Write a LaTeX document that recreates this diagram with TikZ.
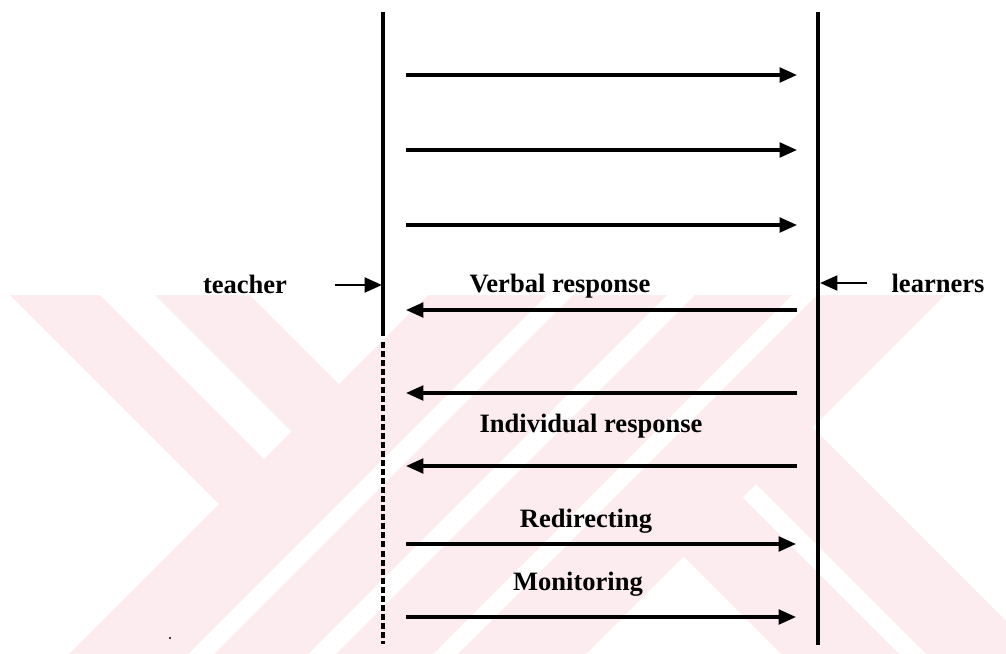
\documentclass[tikz,border=0pt]{standalone}
\usepackage{fontspec}
\setmainfont{Liberation Serif}
\usetikzlibrary{arrows.meta}
\definecolor{wmpink}{RGB}{253,236,239}
\begin{document}
\begin{tikzpicture}[x=0.75pt,y=-0.75pt,
  lbl/.style={font=\fontsize{19.9}{24}\selectfont\bfseries, inner sep=0pt, anchor=base},
  lifeline/.style={line width=2.3pt},
  brokenline/.style={line width=2.6pt, dash pattern=on 4.5pt off 2.3pt},
  msg/.style={line width=2.3pt, -{Triangle[length=13pt,width=11pt]}},
  pointer/.style={line width=2.2pt, -{Triangle[length=13pt,width=11pt]}}]
\useasboundingbox (0,0) rectangle (1006,653);

% faint background emblem made of crossing diagonal bands
\begin{scope}
  \clip (0,295) rectangle (1006,653);
  % bands rising to the right: x+y between the two values
  \foreach \da/\db in {723/842,868/962,990/1087,1112/1240}
    \fill[wmpink] ({(\da-1000)/2},{(\da+1000)/2}) -- ({(\db-1000)/2},{(\db+1000)/2})
      -- ({(\db+1000)/2},{(\db-1000)/2}) -- ({(\da+1000)/2},{(\da-1000)/2}) -- cycle;
  % bands falling to the right on the left side: x-y between the two values
  \foreach \ca/\cb in {-285/-195,-140/-45}
    \fill[wmpink] ({(\ca)/2},{-(\ca)/2}) -- ({(\cb)/2},{-(\cb)/2})
      -- ({(730+\cb)/2},{(730-\cb)/2}) -- ({(730+\ca)/2},{(730-\ca)/2}) -- cycle;
  % bands falling to the right on the right side
  \foreach \ca/\cb in {127/245,272/385}
    \fill[wmpink] ({(1235+\ca)/2},{(1235-\ca)/2}) -- ({(1235+\cb)/2},{(1235-\cb)/2})
      -- ({(2000+\cb)/2},{(2000-\cb)/2}) -- ({(2000+\ca)/2},{(2000-\ca)/2}) -- cycle;
\end{scope}

% life lines
\coordinate (tTop) at (383,12);
\coordinate (tMid) at (383,336);
\coordinate (tDash) at (383,342);
\coordinate (tBot) at (383,644);
\coordinate (lTop) at (818,12);
\coordinate (lBot) at (818,645);
\draw[lifeline] (tTop) -- (tMid);
\draw[brokenline] (tDash) -- (tBot);
\draw[lifeline] (lTop) -- (lBot);

% participant labels
\node[lbl] (teacher) at (245,293) {teacher};
\node[lbl] (learners) at (938,292) {learners};
\coordinate (teacherTail) at (335,285);
\coordinate (teacherHead) at (382,285);
\coordinate (learnersTail) at (867,283);
\coordinate (learnersHead) at (820,283);
\draw[pointer] (teacherTail) -- (teacherHead);
\draw[pointer] (learnersTail) -- (learnersHead);

% messages from teacher to learners
\coordinate (m1a) at (406,75);  \coordinate (m1b) at (797,75);
\coordinate (m2a) at (406,150); \coordinate (m2b) at (797,150);
\coordinate (m3a) at (406,225); \coordinate (m3b) at (797,225);
\draw[msg] (m1a) -- (m1b);
\draw[msg] (m2a) -- (m2b);
\draw[msg] (m3a) -- (m3b);

% responses from learners to teacher
\node[lbl] (verbal) at (560,292) {Verbal response};
\coordinate (r1a) at (797,310); \coordinate (r1b) at (406,310);
\coordinate (r2a) at (797,393); \coordinate (r2b) at (406,393);
\coordinate (r3a) at (797,466); \coordinate (r3b) at (406,466);
\draw[msg] (r1a) -- (r1b);
\draw[msg] (r2a) -- (r2b);
\node[lbl] (individual) at (591,432) {Individual response};
\draw[msg] (r3a) -- (r3b);

% follow-up moves
\node[lbl] (redirect) at (586,527) {Redirecting};
\coordinate (f1a) at (406,544); \coordinate (f1b) at (796,544);
\draw[msg] (f1a) -- (f1b);
\node[lbl] (monitor) at (578,590) {Monitoring};
\coordinate (f2a) at (406,617); \coordinate (f2b) at (796,617);
\draw[msg] (f2a) -- (f2b);

% small speck
\fill (170,638) circle (1.2);
\end{tikzpicture}
\end{document}
